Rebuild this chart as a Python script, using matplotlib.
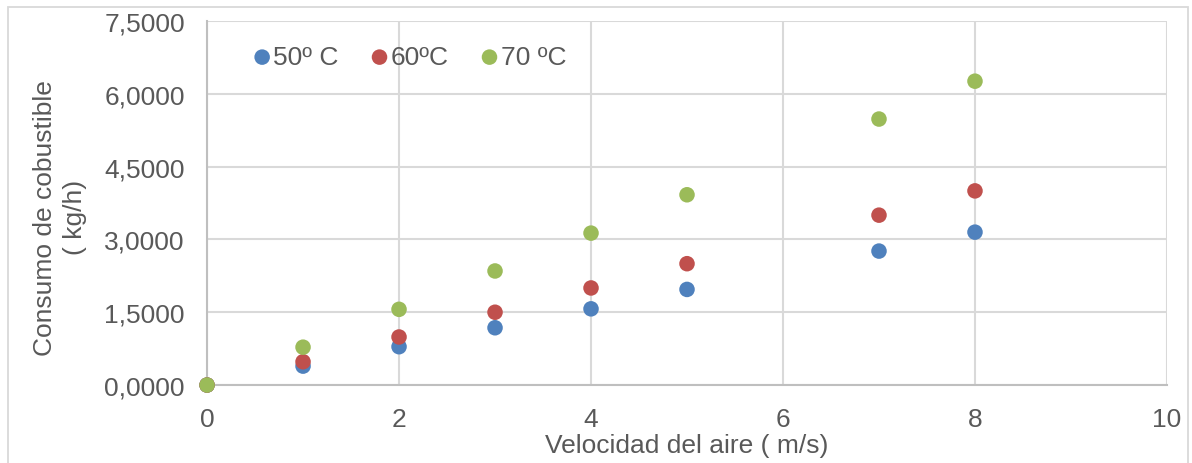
import matplotlib.pyplot as plt
from matplotlib.ticker import FuncFormatter
from matplotlib.patches import Rectangle

plt.rcParams['font.family'] = ['Liberation Sans', 'DejaVu Sans']

velocidad = [0, 1, 2, 3, 4, 5, 7, 8]
consumo_50 = [0.0, 0.39, 0.79, 1.18, 1.57, 1.97, 2.76, 3.15]
consumo_60 = [0.0, 0.48, 0.99, 1.5, 2.0, 2.5, 3.5, 4.0]
consumo_70 = [0.0, 0.78, 1.56, 2.35, 3.13, 3.92, 5.48, 6.26]
series_labels = ['50º C', '60ºC', '70 ºC']

colors = ['#4f81bd', '#c0504d', '#9bbb59']
grey_text = '#595959'
FS = 19

fig = plt.figure(figsize=(11.92, 4.64), dpi=100)
ax = fig.add_axes([0.1737, 0.168, 0.8053, 0.7846])

for ys, col, lab in zip([consumo_50, consumo_60, consumo_70], colors, series_labels):
    ax.scatter(velocidad, ys, s=125, color=col, label=lab, zorder=3,
               edgecolors='none', clip_on=False)

ax.set_xlim(0, 10)
ax.set_ylim(0, 7.5)
ax.set_xticks(range(0, 11, 2))
ax.set_yticks([0, 1.5, 3.0, 4.5, 6.0, 7.5])
ax.yaxis.set_major_formatter(FuncFormatter(lambda v, p: f"{v:.4f}".replace('.', ',')))

ax.grid(True, color='#d9d9d9', linewidth=1.5)
ax.set_axisbelow(True)
for side in ['top', 'right']:
    ax.spines[side].set_visible(False)
for side in ['left', 'bottom']:
    ax.spines[side].set_color('#bfbfbf')
    ax.spines[side].set_linewidth(1.5)
ax.tick_params(length=0, labelsize=FS, colors=grey_text, pad=16)

ax.set_xlabel('Velocidad del aire ( m/s)', fontsize=FS, color=grey_text, labelpad=1)
ax.set_ylabel('Consumo de cobustible\n( kg/h)', fontsize=FS, color=grey_text,
              linespacing=1.3)
ax.yaxis.set_label_coords(-0.125, 0.462)

ax.legend(loc='center left', bbox_to_anchor=(0.0354, 0.901), ncol=3, frameon=False,
          fontsize=FS, labelcolor=grey_text, handlelength=0.6, handletextpad=0.12,
          columnspacing=1.25, borderpad=0, scatterpoints=1)

fig.patches.append(Rectangle((0.007, -0.02), 0.99, 1.003, transform=fig.transFigure,
                             fill=False, edgecolor='#d9d9d9', linewidth=1.3))

fig.savefig('out.png', dpi=100)
